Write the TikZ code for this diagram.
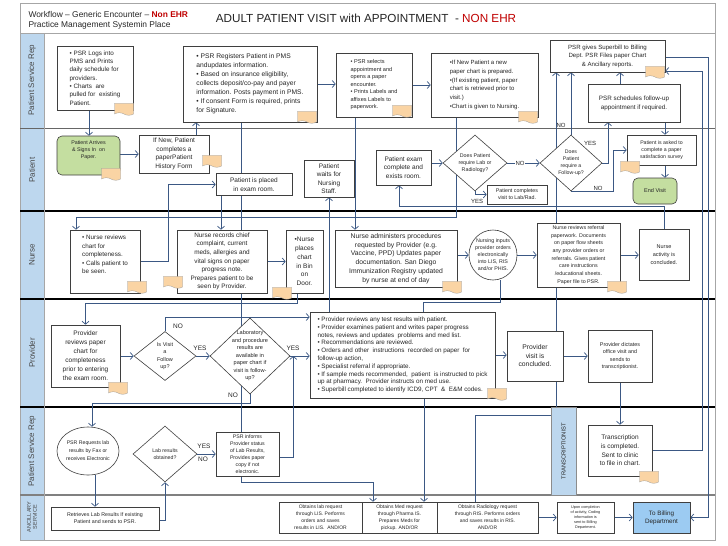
\documentclass[tikz,border=0pt]{standalone}
\usepackage{fontspec}
\setmainfont{Liberation Sans}
\usetikzlibrary{arrows.meta,shapes.geometric,shapes.symbols,calc}
\pgfdeclarelayer{lanes}
\pgfdeclarelayer{wires}
\pgfsetlayers{lanes,wires,main}
\definecolor{lanefill}{HTML}{BDD7EE}
\definecolor{wirec}{HTML}{3B5884}
\definecolor{boxc}{HTML}{3F3F3F}
\definecolor{txt}{HTML}{262626}
\definecolor{notefill}{HTML}{FAD4A4}
\definecolor{greenfill}{HTML}{C4DEA0}
\definecolor{bluefill}{HTML}{9CCBF2}
\definecolor{titlered}{HTML}{C00000}
\definecolor{framec}{HTML}{A6A6A6}
\newcommand\fsz[2]{\fontsize{#1}{#2}\selectfont}
\tikzset{
  box/.style={draw=boxc, fill=white, line width=0.6pt, inner sep=1pt, text=txt, align=center},
  lbox/.style={box, align=left},
  dia/.style={draw=boxc, fill=white, line width=0.6pt, diamond, inner sep=0pt},
  ell/.style={draw=boxc, fill=white, line width=0.6pt, ellipse, inner sep=0pt},
  wire/.style={draw=wirec, line width=0.7pt},
  arr/.style={wire, -{Straight Barb[length=3pt,width=7pt]}},
  lbl/.style={font=\fsz{6}{7}, text=txt, inner sep=0.5pt},
  lanetext/.style={rotate=90, font=\fsz{8}{9}, text=txt!85},
  paper/.style={tape, tape bend top=none, tape bend bottom=out and in, tape bend height=2.5pt, fill=notefill, draw=black!40, line width=0.3pt, minimum width=19pt, minimum height=12pt, inner sep=0pt}
}
\begin{document}
\begin{tikzpicture}[x=1pt,y=-1pt]
\useasboundingbox (0,0) rectangle (728,546);
\begin{pgfonlayer}{lanes}
\fill[white] (0,0) rectangle (728,546);
\fill[lanefill] (20,33) rectangle (44,540);
\draw[framec, line width=0.8pt] (20,3) rectangle (715,540);
\draw[framec, line width=1pt] (20,33) -- (715,33);
\draw[black!60, line width=0.8pt] (20,128) -- (715,128);
\draw[black, line width=1.2pt] (20,211) -- (715,211);
\draw[black, line width=1.2pt] (20,299) -- (715,299);
\draw[black, line width=1.2pt] (20,407) -- (715,407);
\draw[black!50, line width=1.2pt] (20,495) -- (715,495);
\draw[framec] (44,33) -- (44,540);
\end{pgfonlayer}

% titles
\node[anchor=west, font=\fsz{8.4}{9}, text=txt] (t1) at (25,14) {Workflow – Generic Encounter – \textcolor{titlered}{\textbf{Non EHR}}};
\node[anchor=west, font=\fsz{8.4}{9}, text=txt] (t2) at (25,25) {Practice Management Systemin Place};
\node[font=\fsz{11.7}{13}, text=txt] (t3) at (366,18) {ADULT PATIENT VISIT with APPOINTMENT\ \ - \textcolor{titlered}{NON EHR}};

% lane labels
\node[lanetext] (l1) at (32,80) {Patient Service Rep};
\node[lanetext] (l2) at (32,170) {Patient};
\node[lanetext] (l3) at (32,255) {Nurse};
\node[lanetext] (l4) at (32,353) {Provider};
\node[lanetext] (l5) at (32,451) {Patient Service Rep};
\node[lanetext, font=\fsz{5.5}{6}, align=center] (l6) at (32,517) {ANCILLARY\\SERVICE};

% lane 1
\node[lbox, font=\fsz{6.3}{8.3}, minimum width=76pt, minimum height=64pt] (psrA) at (95,78) {• PSR Logs into\\ PMS and Prints\\ daily schedule for\\ providers.\\ • Charts\ \ are\\ pulled for\ \ existing\\ Patient.};
\node[lbox, font=\fsz{6.7}{9}, minimum width=134pt, minimum height=76pt] (psrB) at (250,84) {• PSR Registers Patient in PMS\\ andupdates information.\\ • Based on insurance eligibility,\\ collects deposit/co-pay and payer\\ information. Posts payment in PMS.\\ • If consent Form is required, prints\\ for Signature.};
\node[lbox, font=\fsz{5.6}{7.5}, minimum width=76pt, minimum height=64pt] (psrC) at (374,85) {• PSR selects\\ appointment and\\ opens a paper\\ encounter.\\ • Prints Labels and\\ affixes Labels to\\ paperwork.};
\node[lbox, font=\fsz{6}{8.8}, minimum width=107pt, minimum height=64pt] (psrD) at (484.5,85) {•If New Patient a new\\ paper chart is prepared.\\ •(If existing patient, paper\\ chart is retrieved prior to\\ visit.)\\ •Chart is given to Nursing.};
\node[box, font=\fsz{6.1}{8.5}, minimum width=115pt, minimum height=32pt] (psrE) at (607.5,56) {PSR gives Superbill to Billing\\ Dept. PSR Files paper Chart\\ \& Ancillary reports.};
\node[box, font=\fsz{6.3}{9}, minimum width=92pt, minimum height=38pt] (psrF) at (634,103) {PSR schedules follow-up\\ appointment if required.};

% lane 2 patient
\node[box, fill=greenfill, rounded corners=5pt, font=\fsz{5.3}{7}, minimum width=63pt, minimum height=39pt] (arrive) at (88.5,155.5) {Patient Arrives\\ \& Signs In\ \ on\\ Paper.\\[4pt]};
\node[box, font=\fsz{6.5}{8.5}, minimum width=70pt, minimum height=38pt] (hist) at (174,154) {If New, Patient\\ completes a\\ paperPatient\\ History Form};
\node[box, font=\fsz{6.5}{8.5}, minimum width=76pt, minimum height=22pt] (placed) at (254,184.5) {Patient is placed\\ in exam room.};
\node[box, font=\fsz{6.5}{8.5}, minimum width=50pt, minimum height=37pt] (waits) at (329,178.5) {Patient\\ waits for\\ Nursing\\ Staff.};
\node[box, font=\fsz{6.5}{8.5}, minimum width=55pt, minimum height=35pt] (exam) at (403.5,167.5) {Patient exam\\ complete and\\ exists room.};
\node[dia, minimum width=64pt, minimum height=56pt, label={[font=\fsz{5.3}{7}, align=center, text=txt]center:{Does Patient\\ require Lab or\\ Radiology?}}] (dlab) at (475,163) {};
\node[box, font=\fsz{5.3}{7}, minimum width=60pt, minimum height=19pt] (labrad) at (517,194.5) {Patient completes\\ visit to Lab/Rad.};
\node[dia, minimum width=62pt, minimum height=56pt, label={[font=\fsz{5.2}{7}, align=center, text=txt]center:{Does\\ Patient\\ require a\\ Follow-up?}}] (dfu) at (571,163) {};
\node[box, font=\fsz{5.2}{7}, minimum width=69pt, minimum height=30pt] (survey) at (661.5,150) {Patient is asked to\\ complete a paper\\ satisfaction survey};
\node[box, fill=greenfill, rounded corners=5pt, font=\fsz{5.5}{7}, minimum width=44pt, minimum height=26pt] (endv) at (655,191) {End Visit};

% lane 3 nurse
\node[lbox, font=\fsz{6.3}{8.5}, minimum width=70pt, minimum height=63pt] (nrev) at (105,261.5) {• Nurse reviews\\ chart for\\ completeness.\\ • Calls patient to\\ be seen.\\[6pt]};
\node[box, font=\fsz{6.4}{8.6}, minimum width=90pt, minimum height=63pt] (nrec) at (222,261.5) {Nurse records chief\\ complaint, current\\ meds, allergies and\\ vital signs on paper\\ progress note.\\ Prepares patient to be\\ seen by Provider.};
\node[box, font=\fsz{6.5}{8.8}, minimum width=37pt, minimum height=63pt] (nbin) at (304.5,261.5) {•Nurse\\ places\\ chart\\ in Bin\\ on\\ Door.};
\node[box, font=\fsz{6.8}{8.8}, minimum width=122pt, minimum height=57pt] (nadm) at (396,258.5) {Nurse administers procedures\\ requested by Provider (e.g.\\ Vaccine, PPD) Updates paper\\ documentation. San Diego\\ Immunization Registry updated\\ by nurse at end of day};
\node[ell, minimum width=48pt, minimum height=50pt, label={[font=\fsz{5.3}{7}, align=center, text=txt]center:{Nursing inputs\\ provider orders\\ electronically\\ into LIS, RIS\\ and/or PHIS.}}] (ncirc) at (493,255) {};
\node[box, font=\fsz{5.3}{7.7}, minimum width=83pt, minimum height=64pt] (nref) at (578.5,255) {Nurse reviews referral\\ paperwork. Documents\\ on paper flow sheets\\ any provider orders or\\ referrals. Gives patient\\ care instructions\\ /educational sheets.\\ Paper file to PSR.};
\node[box, font=\fsz{5.5}{8}, minimum width=50pt, minimum height=51pt] (nact) at (664,254.5) {Nurse\\ activity is\\ concluded.};

% lane 4 provider
\node[box, font=\fsz{6.5}{9}, minimum width=69pt, minimum height=62pt] (prev) at (85.5,356) {Provider\\ reviews paper\\ chart for\\ completeness\\ prior to entering\\ the exam room.};
\node[dia, minimum width=62pt, minimum height=49pt, label={[font=\fsz{5.5}{7.5}, align=center, text=txt]center:{Is Visit\\ a\\ Follow\\ up?}}] (dvisit) at (165,356) {};
\node[dia, minimum width=80pt, minimum height=76pt, label={[font=\fsz{5.6}{7.5}, align=center, text=txt]center:{Laboratory\\ and procedure\\ results are\\ available in\\ paper chart if\\ visit is follow-\\ up?}}] (dlabres) at (250,356) {};
\node[lbox, font=\fsz{6.3}{7.8}, minimum width=185pt, minimum height=86pt] (pbig) at (402.5,355) {• Provider reviews any test results with patient.\\ • Provider examines patient and writes paper progress\\ notes, reviews and updates\ \ problems and med list.\\ • Recommendations are reviewed.\\ • Orders and other\ \ instructions\ \ recorded on paper\ \ for\\ follow-up action,\\ • Specialist referral if appropriate.\\ • If sample meds recommended,\ \ patient\ \ is instructed to pick\\ up at pharmacy.\ \ Provider instructs on med use.\\ • Superbill completed to identify ICD9, CPT\ \ \&\ \ E\&M codes.};
\node[box, font=\fsz{6.8}{8.5}, minimum width=56pt, minimum height=50pt] (pcon) at (535,356) {Provider\\ visit is\\ concluded.};
\node[box, font=\fsz{5.4}{7.5}, minimum width=64pt, minimum height=52pt] (pdict) at (620,356) {Provider dictates\\ office visit and\\ sends to\\ transcriptionist.};

% lane 5 PSR
\node[ell, minimum width=62pt, minimum height=48pt, label={[font=\fsz{5.2}{8}, align=center, text=txt]center:{PSR Requests lab\\ results by Fax or\\ receives Electronic}}] (preq) at (88,451) {};
\node[dia, minimum width=64pt, minimum height=56pt, label={[font=\fsz{5.2}{7}, align=center, text=txt]center:{Lab results\\ obtained?}}] (dlabob) at (165,454) {};
\node[box, font=\fsz{5.2}{7}, minimum width=63pt, minimum height=44pt] (pinf) at (247.5,454) {PSR informs\\ Provider status\\ of Lab Results,\\ Provides paper\\ copy if not\\ electronic.};
\node[draw=black!45, fill=lanefill, minimum width=25pt, minimum height=88pt, inner sep=0pt] (tlabel) at (563.5,451) {};
\node[rotate=90, font=\fsz{5.8}{6}, text=txt] (tlabtext) at (tlabel.center) {TRANSCRIPTIONIST};
\node[box, font=\fsz{6.5}{8.7}, minimum width=64pt, minimum height=51pt] (trans) at (620,450.5) {Transcription\\ is completed.\\ Sent to clinic\\ to file in chart.};

% lane 6 ancillary
\node[box, font=\fsz{5.3}{7}, minimum width=108pt, minimum height=23pt] (aret) at (105,518.5) {Retrieves Lab Results If existing\\ Patient and sends to PSR.};
\node[box, font=\fsz{5}{7}, minimum width=83pt, minimum height=31pt] (alab) at (320.5,517.5) {Obtains lab request\\ through LIS. Performs\\ orders and saves\\ results in LIS.\ \ AND/OR};
\node[box, font=\fsz{5}{7}, minimum width=75pt, minimum height=31pt] (amed) at (399.5,517.5) {Obtains Med request\\ through Pharma IS.\\ Prepares Meds for\\ pickup. AND/OR};
\node[box, font=\fsz{5}{7}, minimum width=101pt, minimum height=31pt] (arad) at (487.5,517.5) {Obtains Radiology request\\ through RIS. Performs orders\\ and saves results in RIS.\\ AND/OR};
\node[box, font=\fsz{3.8}{5}, minimum width=57pt, minimum height=31pt] (aup) at (585.5,517.5) {Upon completion\\ of activity, Coding\\ information is\\ sent to Billing\\ Department.};
\node[box, fill=bluefill, font=\fsz{6.3}{8}, minimum width=57pt, minimum height=31pt] (abill) at (661.5,517.5) {To Billing\\ Department};

\coordinate (j1) at (0,482);

\begin{pgfonlayer}{wires}
\draw[arr] ([xshift=-6pt]psrA.south) -- ([xshift=-6pt]psrA.south |- arrive.north);
\draw[arr] (arrive.east |- hist.west) -- (hist.west);
\draw[arr] ([xshift=22pt]hist.north) -- ([xshift=22pt]hist.north |- psrB.south);
\draw[arr] (psrB.east) -- (psrB.east -| psrC.west);
\draw[arr] (psrC.east) -- (psrC.east -| psrD.west);
\draw[arr] ([xshift=-9pt]psrB.south) -- ([xshift=-9pt]psrB.south |- j1) -| ([xshift=-26.5pt]amed.north);
\draw[arr] (nrev.east) -- ++(28,0) |- (placed.west);
\draw[arr] ([xshift=-33pt]placed.south) -- ([xshift=-33pt]placed.south |- nrec.north);
\draw[arr] (nrec.east) -- (nrec.east -| nbin.west);
\draw[arr] ([xshift=-7.5pt]nbin.south) -- ++(0,10) -| (prev.north);
\draw[arr] ([xshift=-19pt]psrC.south) -- ([xshift=-19pt]psrC.south |- nadm.north);
\draw[arr] (waits.south |- pbig.north) -- (waits.south);
\draw[arr] (nadm.east |- ncirc.west) -- (ncirc.west);
\draw[arr] (ncirc.east) -- (ncirc.east -| nref.west);
\draw[arr] (nref.east) -- (nref.east -| nact.west);
\draw[arr] (nact.north) -- ++(0,-22) -| ([xshift=-4.5pt]exam.south);
\draw[wire] ([xshift=7pt]ncirc.south) -- ++(0,22) -| ([xshift=20.5pt]pbig.north);
\draw[arr] ([xshift=-28.5pt]psrD.south) -- ++(0,100) -| ([xshift=-29pt]nrev.north);
\draw[arr] (exam.east |- dlab.west) -- (dlab.west);
\draw[arr] (dlab.east) -- (dfu.west);
\draw[arr] (dlab.south) |- (labrad.west);
\draw[arr] (dfu.north) -- (dfu.north |- psrE.south);
\draw[arr] ([xshift=21pt]pcon.north) -- ([xshift=21pt]pcon.north |- psrE.south);
\draw[arr] (dfu.east) -| ([xshift=-26pt]psrF.south);
\draw[arr] ([xshift=-14pt]psrF.north) -- ([xshift=-14pt]psrF.north |- psrE.south);
\draw[arr] ([xshift=31pt]psrF.south) -- ([xshift=31pt]psrF.south |- survey.north);
\draw[arr] (dfu.south) -- ++(42,0) |- (survey.west);
\draw[arr] ([xshift=3.5pt]survey.south) -- ([xshift=3.5pt]survey.south |- endv.north);
\draw[arr] ([yshift=-1pt]psrE.east) -- ++(43,0) |- (abill.east);
\draw[arr] (trans.east) -- ++(50,0) |- ([yshift=-15pt]psrE.east);
\draw[arr] (prev.east) -- (dvisit.west);
\draw[arr] (dvisit.north) |- ([yshift=38pt]pbig.west);
\draw[arr] (dvisit.east) -- (dlabres.west);
\draw[arr] (dlabres.east) -- (dlabres.east -| pbig.west);
\draw[arr] (dlabres.south) -- ++(0,9) -| ([xshift=4pt]preq.north);
\draw[arr] ([yshift=-3pt]pinf.east) -| ([xshift=3pt]dlabres.east);
\draw[arr] ([xshift=21.5pt]pbig.south) -- ([xshift=21.5pt]pbig.south |- amed.north);
\draw[arr] (pbig.east) -- (pbig.east -| pcon.west);
\draw[arr] (pcon.east) -- (pcon.east -| pdict.west);
\draw[arr] (pdict.south) -- (trans.north);
\draw[wire] ([xshift=21pt]pcon.south) -- ++(0,34) -| ([xshift=-12.5pt]arad.north);
\draw[arr] ([xshift=7pt]preq.south) -- ([xshift=7pt]preq.south |- aret.north);
\draw[arr] ([yshift=-1.5pt]aret.east) -| (dlabob.south);
\draw[arr] (dlabob.east) -- (dlabob.east -| pinf.west);
\draw[arr] (arad.east) -- (aup.west);
\draw[arr] (aup.east) -- (abill.west);
\end{pgfonlayer}

% branch labels
\node[lbl, fill=white] (n1) at (520,163) {NO};
\node[lbl] (y1) at (477,201) {YES};
\node[lbl] (n2) at (561,125) {NO};
\node[lbl] (y2) at (590,143) {YES};
\node[lbl] (n3) at (598,188) {NO};
\node[lbl, font=\fsz{6.5}{7}] (n4) at (178,326) {NO};
\node[lbl, font=\fsz{6.5}{7}] (y3) at (200,348) {YES};
\node[lbl, font=\fsz{6.5}{7}] (y4) at (293,348) {YES};
\node[lbl, font=\fsz{6.5}{7}] (n5) at (233,395) {NO};
\node[lbl, font=\fsz{6.5}{7}] (y5) at (204,446) {YES};
\node[lbl, font=\fsz{6.5}{7}] (n6) at (203,459) {NO};

% paper notes
\node[paper] (pn1) at (124,108) {};
\node[paper] (pn2) at (307,116) {};
\node[paper] (pn3) at (402,110) {};
\node[paper] (pn4) at (528,116) {};
\node[paper] (pn5) at (655,71) {};
\node[paper] (pn6) at (111,173) {};
\node[paper] (pn7) at (212,160) {};
\node[paper] (pn8) at (630,166) {};
\node[paper] (pn9) at (137,286) {};
\node[paper] (pn10) at (173,281) {};
\node[paper] (pn11) at (282,292) {};
\node[paper] (pn12) at (452,286) {};
\node[paper] (pn13) at (617,286) {};
\node[paper] (pn14) at (118,387) {};
\node[paper] (pn15) at (497,393) {};
\node[paper] (pn16) at (649,476) {};
\end{tikzpicture}
\end{document}
